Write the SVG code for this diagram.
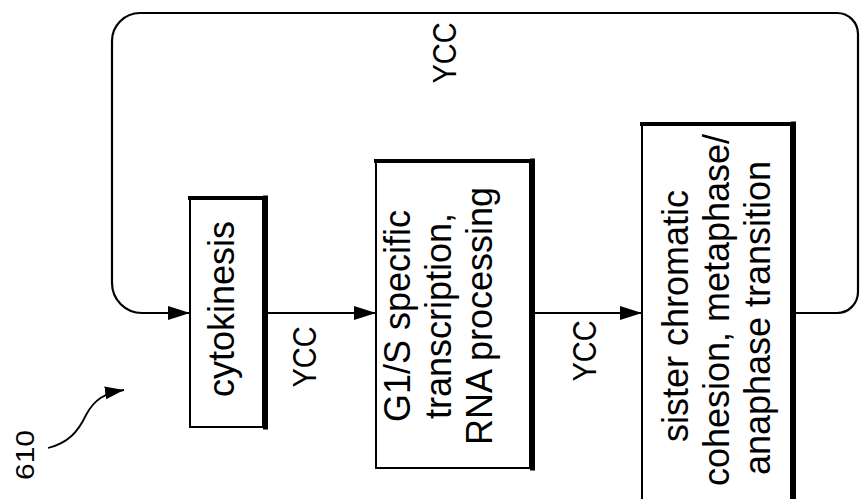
<svg xmlns="http://www.w3.org/2000/svg" width="861" height="499" viewBox="0 0 861 499">
<style>
.box{fill:#fff;stroke:#000;stroke-width:2}
.sh{fill:none;stroke:#000;stroke-linecap:square}
.t{font-family:"Liberation Sans",Arial,sans-serif;font-size:36px;fill:#000;text-anchor:middle}
.y{font-family:"Liberation Sans",Arial,sans-serif;font-size:29px;fill:#000;text-anchor:middle}
.c{fill:none;stroke:#000;stroke-width:2.2}
</style>
<defs>
<marker id="ah" markerUnits="userSpaceOnUse" markerWidth="24" markerHeight="16" refX="22" refY="7" orient="auto">
<path d="M0,0 L22,7 L0,14 Z" fill="#000"/>
</marker>
<marker id="ah2" markerUnits="userSpaceOnUse" markerWidth="22" markerHeight="16" refX="19" refY="6.5" orient="auto">
<path d="M0,0 L19,6.5 L0,13 Z" fill="#000"/>
</marker>
</defs>
<rect width="861" height="499" fill="#fff"/>
<g id="connectors">
<path class="c" d="M793,313 H837 A21,21 0 0 0 858,292 V34 A21,21 0 0 0 837,13 H140 A28,28 0 0 0 112,41 V283 A30,30 0 0 0 142,313 H190" marker-end="url(#ah)"/>
<path class="c" d="M266,313 H376" marker-end="url(#ah)"/>
<path class="c" d="M533,313 H642" marker-end="url(#ah)"/>
<text class="y" transform="translate(456,53) rotate(-90) scale(1,1.12)">YCC</text>
<text class="y" transform="translate(316,357) rotate(-90) scale(1,1.12)">YCC</text>
<text class="y" transform="translate(596,351) rotate(-90) scale(1,1.12)">YCC</text>
</g>
<g id="cytokinesis">
<rect class="box" x="190" y="197" width="73" height="230"/>
<path class="sh" d="M190,198 H265" stroke-width="4"/>
<path class="sh" d="M265.5,198 V427" stroke-width="5"/>
<text class="t" transform="translate(234,309) rotate(-90)">cytokinesis</text>
</g>
<g id="g1s">
<rect class="box" x="376" y="160" width="154" height="308"/>
<path class="sh" d="M376,161 H532" stroke-width="4"/>
<path class="sh" d="M532.5,161 V468" stroke-width="5"/>
<text class="t" transform="translate(410,316) rotate(-90)">G1/S specific</text>
<text class="t" transform="translate(451,316) rotate(-90)">transcription,</text>
<text class="t" transform="translate(492,316) rotate(-90)">RNA processing</text>
</g>
<g id="sister">
<rect class="box" x="642" y="123" width="149" height="400"/>
<path class="sh" d="M642,124 H793" stroke-width="4"/>
<path class="sh" d="M793.5,124 V510" stroke-width="5"/>
<text class="t" transform="translate(688,316) rotate(-90)">sister chromatic</text>
<text class="t" transform="translate(729,310) rotate(-90)">cohesion, metaphase/</text>
<text class="t" transform="translate(770,318) rotate(-90)">anaphase transition</text>
</g>
<g id="label610">
<text class="y" style="font-size:30px" transform="translate(34,455) rotate(-90) scale(1,0.85)">610</text>
<path d="M48,448 C68,443 78,432 86,415 C94,400 104,393 124,390" fill="none" stroke="#000" stroke-width="1.8" marker-end="url(#ah2)"/>
</g>
</svg>
